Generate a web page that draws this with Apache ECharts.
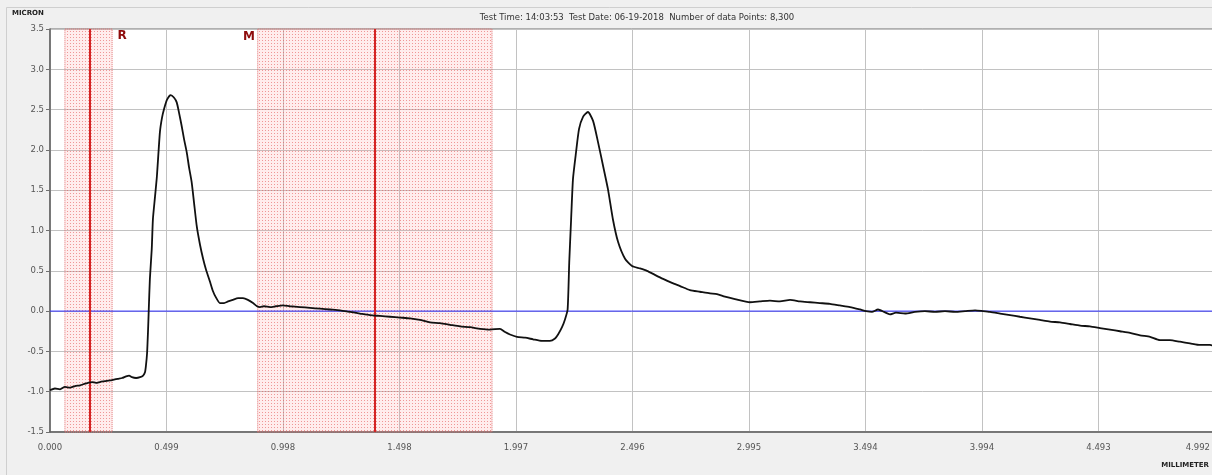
<!DOCTYPE html>
<html>
<head>
<meta charset="utf-8">
<title>Profile trace</title>
<script src="https://cdn.jsdelivr.net/npm/echarts@6/dist/echarts.min.js"></script>
<style>
  html, body { margin: 0; padding: 0; background: #f0f0f0; }
  #chart { width: 1212px; height: 475px; }
</style>
</head>
<body>
<div id="chart"></div>
<script>
// Profile position along the scan (mm)
const positionMm = [
  0.000, 0.021, 0.043, 0.064, 0.086, 0.107, 0.129, 0.150, 0.163, 0.180,
  0.197, 0.214, 0.236, 0.257, 0.274, 0.291, 0.309, 0.326, 0.339, 0.351,
  0.369, 0.386, 0.399, 0.407, 0.411, 0.416, 0.420, 0.423, 0.428, 0.436,
  0.441, 0.450, 0.458, 0.471, 0.480, 0.489, 0.501, 0.517, 0.531, 0.543,
  0.553, 0.564, 0.574, 0.586, 0.596, 0.607, 0.617, 0.629, 0.643, 0.656,
  0.668, 0.686, 0.698, 0.711, 0.728, 0.746, 0.763, 0.784, 0.806, 0.827,
  0.848, 0.870, 0.887, 0.900, 0.917, 0.943, 0.968, 0.998, 1.028, 1.071,
  1.114, 1.157, 1.200, 1.243, 1.286, 1.328, 1.371, 1.414, 1.457, 1.500,
  1.543, 1.585, 1.628, 1.671, 1.714, 1.757, 1.800, 1.843, 1.885, 1.928,
  1.950, 1.971, 2.001, 2.036, 2.070, 2.108, 2.142, 2.164, 2.177, 2.194,
  2.207, 2.218, 2.225, 2.233, 2.241, 2.254, 2.267, 2.284, 2.305, 2.327,
  2.348, 2.370, 2.391, 2.412, 2.434, 2.464, 2.494, 2.528, 2.558, 2.592,
  2.627, 2.665, 2.700, 2.742, 2.785, 2.828, 2.858, 2.892, 2.935, 2.999,
  3.042, 3.085, 3.128, 3.171, 3.214, 3.257, 3.299, 3.342, 3.385, 3.428,
  3.471, 3.497, 3.522, 3.548, 3.574, 3.599, 3.625, 3.664, 3.706, 3.749,
  3.792, 3.835, 3.878, 3.921, 3.964, 3.998, 4.028, 4.071, 4.114, 4.156,
  4.199, 4.242, 4.285, 4.328, 4.371, 4.414, 4.456, 4.499, 4.542, 4.585,
  4.628, 4.671, 4.714, 4.756, 4.799, 4.842, 4.885, 4.928, 4.971, 4.992
];

// Measured height (micron)
const heightMicron = [
  -0.98, -0.96, -0.97, -0.94, -0.95, -0.93, -0.92, -0.90, -0.89, -0.88,
  -0.89, -0.88, -0.87, -0.86, -0.85, -0.84, -0.83, -0.81, -0.80, -0.82,
  -0.83, -0.82, -0.80, -0.76, -0.68, -0.52, -0.25, 0.00, 0.40, 0.77,
  1.14, 1.42, 1.67, 2.22, 2.40, 2.51, 2.62, 2.68, 2.65, 2.59,
  2.46, 2.30, 2.14, 1.97, 1.78, 1.60, 1.35, 1.05, 0.82, 0.65,
  0.52, 0.36, 0.25, 0.17, 0.10, 0.10, 0.12, 0.14, 0.16, 0.16,
  0.14, 0.10, 0.06, 0.05, 0.06, 0.05, 0.06, 0.07, 0.06, 0.05,
  0.04, 0.03, 0.02, 0.01, -0.01, -0.03, -0.05, -0.06, -0.07, -0.08,
  -0.09, -0.11, -0.14, -0.15, -0.17, -0.19, -0.20, -0.22, -0.23, -0.22,
  -0.26, -0.29, -0.32, -0.33, -0.35, -0.37, -0.37, -0.34, -0.29, -0.20,
  -0.10, 0.02, 0.61, 1.14, 1.64, 1.97, 2.26, 2.41, 2.47, 2.36,
  2.10, 1.80, 1.51, 1.14, 0.86, 0.65, 0.56, 0.53, 0.50, 0.45,
  0.40, 0.35, 0.31, 0.26, 0.24, 0.22, 0.21, 0.18, 0.15, 0.11,
  0.12, 0.13, 0.12, 0.14, 0.12, 0.11, 0.10, 0.09, 0.07, 0.05,
  0.02, 0.00, -0.01, 0.02, -0.01, -0.04, -0.02, -0.03, -0.01, 0.00,
  -0.01, 0.00, -0.01, 0.00, 0.01, 0.00, -0.01, -0.03, -0.05, -0.07,
  -0.09, -0.11, -0.13, -0.14, -0.16, -0.18, -0.19, -0.21, -0.23, -0.25,
  -0.27, -0.30, -0.32, -0.36, -0.36, -0.38, -0.40, -0.42, -0.42, -0.44
];

// X axis tick labels (one per 0.4992 mm step)
const xTickLabels = ['0.000', '0.499', '0.998', '1.498', '1.997', '2.496',
                     '2.995', '3.494', '3.994', '4.493', '4.992'];
const xStep = 0.4992;
const xMax = 4.992;

// Cursor regions [start, end] (mm) and cursor centre lines (mm)
const cursorBands = [[0.064, 0.266], [0.890, 1.894]];
const cursorLines = [0.166, 1.393];
// Cursor tags: name, position (mm), height (micron)
const cursorTags = [['R', 0.309, 3.41], ['M', 0.853, 3.40]];
// Reference height level (micron)
const zeroLevel = 0;

const titleText = 'Test Time: 14:03:53  Test Date: 06-19-2018  Number of data Points: 8,300';

// Dotted pink fill used by the cursor regions
function dotPattern() {
  const c = document.createElement('canvas');
  c.width = 3; c.height = 3;
  const g = c.getContext('2d');
  g.fillStyle = 'rgba(255,140,140,0.16)';
  g.fillRect(0, 0, 3, 3);
  g.fillStyle = 'rgba(225,80,80,0.55)';
  g.fillRect(1, 1, 1, 1);
  return c;
}

const chart = echarts.init(document.getElementById('chart'), null, { renderer: 'canvas' });
const pattern = { image: dotPattern(), repeat: 'repeat' };
const labelFont = 'DejaVu Sans';

const profile = positionMm.map((x, i) => [x, heightMicron[i]]);

chart.setOption({
  animation: false,
  backgroundColor: '#f0f0f0',
  title: {
    text: titleText,
    left: 632,
    top: 8,
    textAlign: 'center',
    textStyle: { fontFamily: labelFont, fontSize: 8.5, fontWeight: 'normal', color: '#333' }
  },
  grid: {
    left: 50, top: 29, right: -3, bottom: 43,
    outerBoundsMode: 'none',
    containLabel: false,
    show: true, backgroundColor: '#ffffff', borderColor: '#707070', borderWidth: 1
  },
  xAxis: {
    type: 'value',
    min: 0, max: xMax, interval: xStep,
    axisLine: { show: true, onZero: false, lineStyle: { color: '#606060', width: 1.5 } },
    axisTick: { show: false },
    splitLine: { show: true, lineStyle: { color: '#c2c2c2', width: 1 } },
    axisLabel: {
      margin: 11,
      fontFamily: labelFont, fontSize: 8.5, color: '#555',
      alignMaxLabel: 'right',
      formatter: v => {
        const i = Math.round(v / xStep);
        return i === xTickLabels.length - 1 ? '{last|' + xTickLabels[i] + '}' : xTickLabels[i];
      },
      rich: { last: { fontFamily: labelFont, fontSize: 8.5, color: '#555', padding: [0, 5, 0, 0] } }
    }
  },
  yAxis: {
    type: 'value',
    min: -1.5, max: 3.5, interval: 0.5,
    axisLine: { show: true, onZero: false, lineStyle: { color: '#606060', width: 1.5 } },
    axisTick: { show: true, length: 4, lineStyle: { color: '#707070' } },
    splitLine: { show: true, lineStyle: { color: '#c2c2c2', width: 1 } },
    axisLabel: {
      margin: 6,
      fontFamily: labelFont, fontSize: 8.5, color: '#555',
      formatter: v => v.toFixed(1)
    }
  },
  graphic: [
    { type: 'rect', silent: true, z: -1,
      shape: { x: 6.5, y: 7.5, width: 1230, height: 500 },
      style: { fill: null, stroke: '#cfcfcf', lineWidth: 1 } },
    { type: 'text', left: 12, top: 10,
      style: { text: 'MICRON', fontFamily: labelFont, fontSize: 7, fontWeight: 'bold', fill: '#222' } },
    { type: 'text', right: 3, top: 462,
      style: { text: 'MILLIMETER', fontFamily: labelFont, fontSize: 7, fontWeight: 'bold', fill: '#222' } }
  ],
  series: [
    {
      // cursor regions and cursor lines
      type: 'line',
      data: [],
      silent: true,
      z: 3,
      markArea: {
        silent: true,
        itemStyle: { color: pattern, borderColor: '#e07070', borderWidth: 1, borderType: 'dotted' },
        data: cursorBands.map(b => [{ xAxis: b[0] }, { xAxis: b[1] }])
      },
      markLine: {
        silent: true,
        symbol: ['none', 'none'],
        label: { show: false },
        lineStyle: { color: '#d42424', width: 2, type: 'solid' },
        data: cursorLines.map(x => ({ xAxis: x }))
      }
    },
    {
      // zero reference level
      type: 'line',
      data: [[0, zeroLevel], [xMax, zeroLevel]],
      silent: true,
      showSymbol: false,
      z: 4,
      itemStyle: { color: '#2b2bff' },
      lineStyle: { color: '#2b2bff', width: 1 }
    },
    {
      type: 'line',
      data: profile,
      showSymbol: false,
      smooth: 0.2,
      lineStyle: { color: '#111', width: 1.8 },
      z: 5,
      markPoint: {
        silent: true,
        symbol: 'rect',
        symbolSize: 0,
        label: {
          show: true, position: 'inside',
          fontFamily: 'DejaVu Sans', fontSize: 12, fontWeight: 900, color: '#8e0c0c',
          formatter: p => p.name
        },
        data: cursorTags.map(t => ({ name: t[0], coord: [t[1], t[2]] }))
      }
    }
  ]
});
</script>
</body>
</html>
